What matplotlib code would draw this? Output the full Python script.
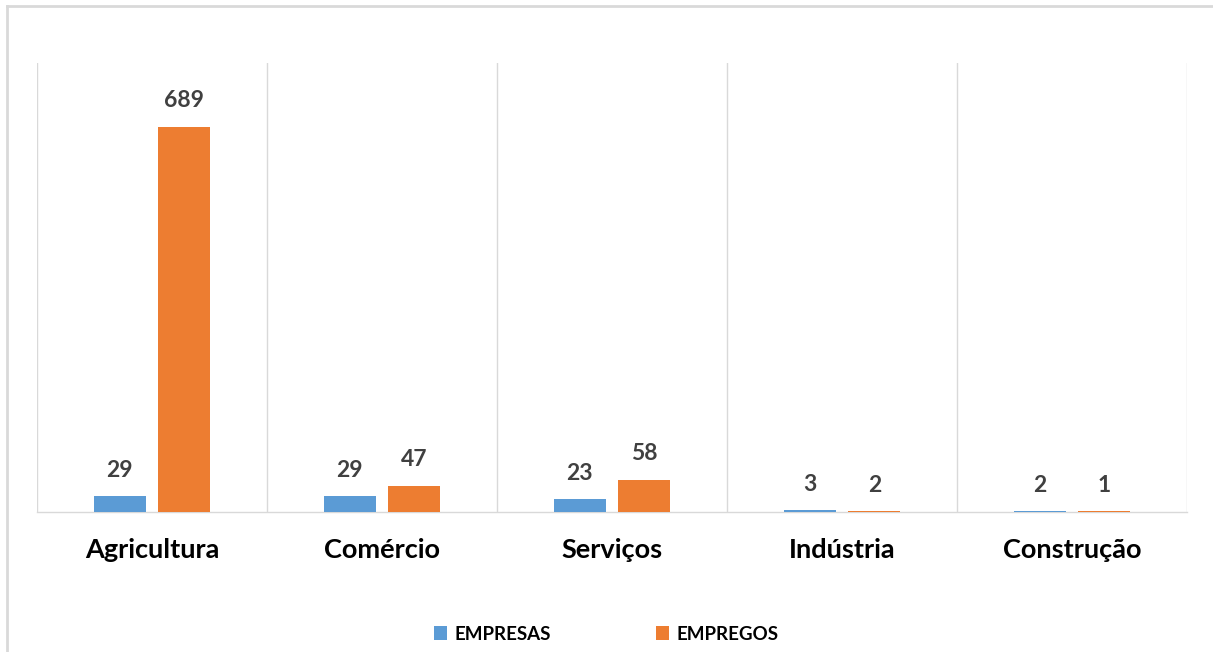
import numpy as np
import matplotlib
matplotlib.use("Agg")
import matplotlib.pyplot as plt
from matplotlib.lines import Line2D

setores = ["Agricultura", "Comércio", "Serviços", "Indústria", "Construção"]
empresas = [29, 29, 23, 3, 2]
empregos = [689, 47, 58, 2, 1]

azul = "#5B9BD5"
laranja = "#ED7D31"
cinza = "#D9D9D9"

plt.rcParams["font.family"] = ["Lato", "DejaVu Sans"]

fig = plt.figure(figsize=(12.13, 6.52), dpi=100)
ax = fig.add_axes([37 / 1213, 1 - 512 / 652, 1150 / 1213, 449 / 652])

x = np.arange(len(setores))
larg = 0.226
desl = 0.141
b1 = ax.bar(x - desl, empresas, larg, color=azul, label="EMPRESAS", zorder=3)
b2 = ax.bar(x + desl, empregos, larg, color=laranja, label="EMPREGOS", zorder=3)

for barras in (b1, b2):
  for b in barras:
    ax.annotate(str(int(b.get_height())), (b.get_x() + b.get_width() / 2, b.get_height()),
                xytext=(0, 11), textcoords="offset points", ha="center", va="bottom",
                fontsize=16.5, fontweight="bold", color="#404040")

ax.set_xlim(-0.5, len(setores) - 0.5)
ax.set_ylim(0, 803)
ax.set_yticks([])
ax.set_xticks(x)
ax.set_xticklabels(setores, fontsize=19.5, fontweight="bold", color="black")
ax.tick_params(axis="x", length=0, pad=19)

# linhas verticais entre categorias
for xv in np.arange(-0.5, len(setores), 1.0):
  ax.axvline(xv, color=cinza, lw=1, zorder=1)

for s in ["top", "left", "right"]:
  ax.spines[s].set_visible(False)
ax.spines["bottom"].set_color(cinza)
ax.spines["bottom"].set_linewidth(1)
ax.spines["bottom"].set_zorder(1)

leg = fig.legend(handles=[b1, b2], loc="center", bbox_to_anchor=(0.5, 1 - 634 / 652),
                 ncol=2, frameon=False, handlelength=0.7, handleheight=0.7,
                 handletextpad=0.4, columnspacing=5.6,
                 prop={"size": 13.5, "weight": "bold"})

# moldura do gráfico (recortada)
fig.add_artist(Line2D([7 / 1213, 1], [1 - 6 / 652, 1 - 6 / 652], color=cinza, lw=2,
                      transform=fig.transFigure))
fig.add_artist(Line2D([7 / 1213, 7 / 1213], [0, 1 - 6 / 652], color=cinza, lw=2,
                      transform=fig.transFigure))

fig.savefig("out.png", dpi=100)
